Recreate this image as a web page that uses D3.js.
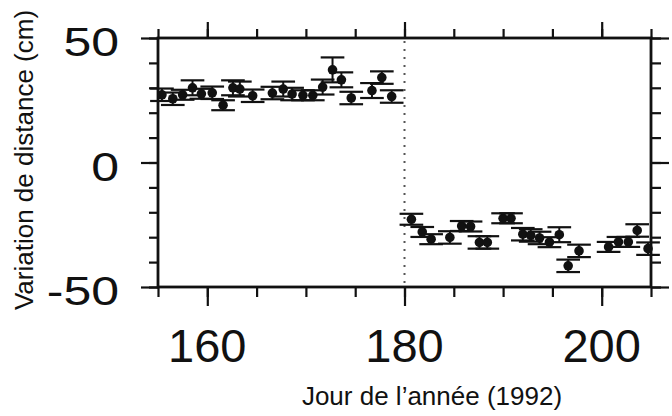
<!DOCTYPE html>
<html>
<head>
<meta charset="utf-8">
<script src="https://cdn.jsdelivr.net/npm/d3@7"></script>
<style>
  body { margin: 0; background: #fff; }
  text { font-family: "Liberation Sans", Arial, sans-serif; fill: #111; }
</style>
</head>
<body>
<div id="chart"></div>
<script>
const width = 672, height = 416;

// days and distance offsets (cm), before and after the 180 event
const dayBefore = [155.4, 156.5, 157.5, 158.5, 159.4, 160.5, 161.6, 162.6, 163.3, 164.6, 166.6,
                   167.7, 168.6, 169.7, 170.7, 171.7, 172.7, 173.6, 174.6, 176.7, 177.7, 178.7];
const offsetBefore = [27.2, 25.6, 27.2, 30.0, 27.6, 28.0, 23.0, 30.0, 29.5, 26.8, 27.9,
                      29.5, 27.5, 27.0, 27.0, 30.3, 37.2, 33.2, 25.9, 28.9, 34.1, 26.5];
const errBefore = [2.5, 2.5, 2, 3, 2, 2.5, 2, 3, 3, 2.5, 2.5,
                   3, 2.5, 2, 2, 3, 5, 3, 2.5, 3, 2.5, 2.5];

const dayAfter = [180.7, 181.8, 182.7, 184.6, 185.8, 186.7, 187.6, 188.4, 190.0, 190.8, 192.0,
                  192.8, 193.7, 194.7, 195.7, 196.6, 197.7, 200.7, 201.7, 202.7, 203.6, 204.7];
const offsetAfter = [-22.8, -27.9, -30.8, -30.1, -25.5, -25.7, -32.1, -32.1, -22.4, -22.4, -28.8,
                     -29.3, -30.3, -32.0, -29.0, -41.5, -35.5, -33.9, -31.9, -31.9, -27.3, -34.6];
const errAfter = [2.2, 2, 2, 2.5, 2, 2, 2.5, 2.5, 2, 2, 2.5,
                  2.5, 2.5, 2, 3, 2.5, 2.5, 2, 2, 2, 2.5, 2.5];

const xTickLabels = [160, 180, 200];
const yTickLabels = [50, 0, -50];
const eventDay = 180;

const points = dayBefore.map((d, i) => ({ day: d, v: offsetBefore[i], e: errBefore[i] }))
  .concat(dayAfter.map((d, i) => ({ day: d, v: offsetAfter[i], e: errAfter[i] })));

const plotL = 158, plotR = 651, plotT = 38, plotB = 287;

const svg = d3.select('#chart').append('svg')
    .attr('width', width)
    .attr('height', height);

const x = d3.scaleLinear().domain([155, 205]).range([plotL, plotR]);
const y = d3.scaleLinear().domain([-50, 50]).range([plotB, plotT]);

const minorX = d3.range(155, 206, 5);
const minorY = d3.range(-50, 51, 10);

// ticks on all four sides, minor then major
function ticks(axisFn, pos, vals, size) {
  const g = svg.append('g')
      .attr('transform', pos)
      .call(axisFn.tickValues(vals).tickSize(size).tickFormat(''));
  g.select('.domain').remove();
  g.selectAll('line').attr('stroke', '#111').attr('stroke-width', 2.2);
}
ticks(d3.axisBottom(x), `translate(0,${plotB})`, minorX, 10);
ticks(d3.axisBottom(x), `translate(0,${plotB})`, xTickLabels, 19);
ticks(d3.axisTop(x), `translate(0,${plotT})`, minorX, 9);
ticks(d3.axisTop(x), `translate(0,${plotT})`, xTickLabels, 16);
ticks(d3.axisLeft(y), `translate(${plotL},0)`, minorY, 9);
ticks(d3.axisLeft(y), `translate(${plotL},0)`, yTickLabels, 17);
ticks(d3.axisRight(y), `translate(${plotR},0)`, minorY, 10);
ticks(d3.axisRight(y), `translate(${plotR},0)`, yTickLabels, 18);

// frame
svg.append('rect')
    .attr('x', plotL).attr('y', plotT)
    .attr('width', plotR - plotL).attr('height', plotB - plotT)
    .attr('fill', 'none').attr('stroke', '#111').attr('stroke-width', 2.8);

// tick labels
svg.append('g').selectAll('text')
  .data(xTickLabels)
  .join('text')
    .attr('x', d => x(d))
    .attr('y', 362)
    .attr('text-anchor', 'middle')
    .attr('font-size', 47)
    .text(d => d);

svg.append('g').selectAll('g')
  .data(yTickLabels)
  .join('g')
    .attr('transform', d => `translate(119,${y(d) + 18}) scale(1.25,1)`)
  .append('text')
    .attr('text-anchor', 'end')
    .attr('font-size', 40)
    .text(d => d);

// event line
svg.append('line')
    .attr('x1', x(eventDay)).attr('x2', x(eventDay))
    .attr('y1', plotT + 3).attr('y2', plotB - 2)
    .attr('stroke', '#555').attr('stroke-width', 2)
    .attr('stroke-dasharray', '2,6');

// error bars and points
const capHalf = 1.2;
const pg = svg.append('g').selectAll('g').data(points).join('g');
pg.append('line')
    .attr('x1', d => x(d.day)).attr('x2', d => x(d.day))
    .attr('y1', d => y(d.v + d.e)).attr('y2', d => y(d.v - d.e))
    .attr('stroke', '#111').attr('stroke-width', 2);
pg.selectAll('.cap')
  .data(d => [d.v + d.e, d.v - d.e].map(v => ({ day: d.day, v })))
  .join('line')
    .attr('class', 'cap')
    .attr('x1', d => x(d.day - capHalf)).attr('x2', d => x(d.day + capHalf))
    .attr('y1', d => y(d.v)).attr('y2', d => y(d.v))
    .attr('stroke', '#111').attr('stroke-width', 2.2);
pg.append('circle')
    .attr('cx', d => x(d.day))
    .attr('cy', d => y(d.v))
    .attr('r', 4.8)
    .attr('fill', '#111');

// axis titles
svg.append('text')
    .attr('x', 432).attr('y', 405)
    .attr('text-anchor', 'middle')
    .attr('font-size', 26)
    .text('Jour de l\u2019année (1992)');

svg.append('text')
    .attr('transform', 'translate(33,160) rotate(-90)')
    .attr('text-anchor', 'middle')
    .attr('font-size', 26)
    .text('Variation de distance (cm)');
</script>
</body>
</html>
